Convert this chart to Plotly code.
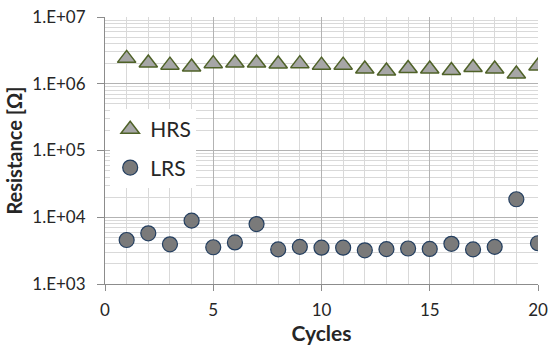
import plotly.graph_objects as go

cycles = list(range(1, 21))
hrs = [2.4e6, 2.05e6, 1.9e6, 1.78e6, 2.0e6, 2.05e6, 2.05e6, 1.98e6, 2.0e6, 1.9e6,
       1.9e6, 1.66e6, 1.55e6, 1.69e6, 1.66e6, 1.58e6, 1.75e6, 1.66e6, 1.4e6, 1.85e6]
lrs = [4.56e3, 5.75e3, 3.93e3, 8.9e3, 3.55e3, 4.2e3, 7.9e3, 3.3e3, 3.6e3, 3.5e3,
       3.5e3, 3.2e3, 3.33e3, 3.4e3, 3.35e3, 4.0e3, 3.3e3, 3.6e3, 1.86e4, 4.08e3]
y_tickvals = [1e3, 1e4, 1e5, 1e6, 1e7]
y_ticktext = ["1.E+03", "1.E+04", "1.E+05", "1.E+06", "1.E+07"]
x_tickvals = [0, 5, 10, 15, 20]
y_minor = [m * 10 ** d for d in range(3, 7) for m in range(2, 10)]

FONT = "Lato, 'Open Sans', sans-serif"

fig = go.Figure()
fig.add_trace(go.Scatter(
    x=cycles, y=hrs, mode="markers", name="HRS", legendgroup="a",
    marker=dict(symbol="triangle-up", size=16, color="#a6a6a6",
                line=dict(color="#4f6228", width=1.5))))
fig.add_trace(go.Scatter(
    x=cycles, y=lrs, mode="markers", name="LRS", legendgroup="b",
    marker=dict(symbol="circle", size=15, color="#7a7a7a",
                line=dict(color="#243f60", width=1.2))))

fig.update_layout(
    width=551, height=345,
    margin=dict(l=105, r=13, t=17, b=61),
    paper_bgcolor="white", plot_bgcolor="white",
    font=dict(family=FONT, color="#262626", size=17),
    showlegend=True,
    legend=dict(x=0.012, y=0.655, xanchor="left", yanchor="top",
                bgcolor="white", borderwidth=0,
                font=dict(size=21, family=FONT, color="#262626"),
                itemwidth=30, traceorder="grouped", tracegroupgap=8),
)
fig.update_xaxes(
    range=[0, 20], tickvals=x_tickvals, ticks="outside", ticklen=6,
    tickcolor="#8c8c8c", showline=True, linecolor="#8c8c8c",
    showgrid=True, gridcolor="#b3b3b3", gridwidth=1,
    minor=dict(dtick=1, showgrid=True, gridcolor="#d9d9d9", gridwidth=1),
    title=dict(text="<b>Cycles</b>", font=dict(size=21, family=FONT), standoff=10),
    tickfont=dict(size=17), zeroline=False, automargin=False,
    ticklabeloverflow="allow", ticklabelstandoff=5,
)
fig.update_yaxes(
    type="log", range=[3, 7], tickvals=y_tickvals, ticktext=y_ticktext,
    ticks="outside", ticklen=7, tickcolor="#8c8c8c",
    showline=True, linecolor="#8c8c8c",
    showgrid=True, gridcolor="#b3b3b3", gridwidth=1,
    minor=dict(tickvals=y_minor, showgrid=True, gridcolor="#d9d9d9", gridwidth=1, ticks=""),
    title=dict(text="<b>Resistance [Ω]</b>", font=dict(size=20, family=FONT), standoff=4),
    tickfont=dict(size=17), automargin=False,
    ticklabeloverflow="allow", ticklabelstandoff=8,
)

fig.write_html("out.html", config={"displayModeBar": False},
               post_script="document.body.style.margin='0px';")
